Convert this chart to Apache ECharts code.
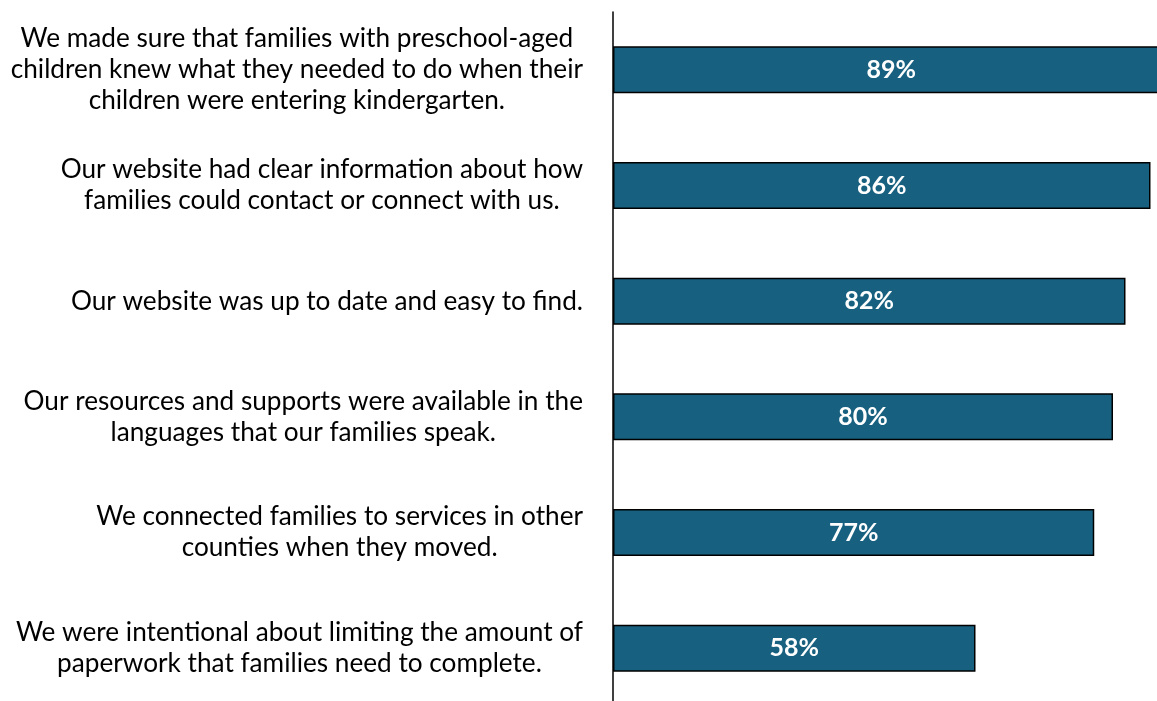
<!DOCTYPE html>
<html>
<head>
<meta charset="utf-8">
<script src="https://cdn.jsdelivr.net/npm/echarts@6/dist/echarts.min.js"></script>
<style>
  html, body { margin: 0; padding: 0; background: #fff; }
  #chart { width: 1157px; height: 701px; }
</style>
</head>
<body>
<div id="chart"></div>
<script>
const categories = [
  "We made sure that families with preschool-aged\nchildren knew what they needed to do when their\nchildren were entering kindergarten.",
  "Our website had clear information about how\nfamilies could contact or connect with us.",
  "Our website was up to date and easy to find.",
  "Our resources and supports were available in the\nlanguages that our families speak.",
  "We connected families to services in other\ncounties when they moved.",
  "We were intentional about limiting the amount of\npaperwork that families need to complete."
];
const values = [89, 86, 82, 80, 77, 58];

const chart = echarts.init(document.getElementById("chart"));
chart.setOption({
  animation: false,
  grid: { left: 613, top: 12, width: 625, height: 694, outerBoundsMode: "none" },
  xAxis: { type: "value", min: 0, max: 100, show: false },
  yAxis: {
    type: "category",
    inverse: true,
    data: categories,
    axisLine: { show: true, lineStyle: { color: "#000", width: 1.5 } },
    axisTick: { show: false },
    axisLabel: {
      margin: 30,
      align: "right",
      formatter: (v) => "{t|" + v.split("\n").join("}\n{t|") + "}",
      rich: {
        t: {
          align: "center",
          fontFamily: "Lato",
          fontSize: 26.2,
          lineHeight: 31,
          color: "#000"
        }
      }
    }
  },
  series: [
    {
      type: "bar",
      data: values,
      barWidth: 47,
      clip: false,
      itemStyle: { color: "#17607f", borderColor: "#000", borderWidth: 1.5 },
      label: {
        show: true,
        position: "inside",
        formatter: "{c}%",
        color: "#fff",
        fontFamily: "Lato",
        fontWeight: "bold",
        fontSize: 25
      }
    }
  ]
});
</script>
</body>
</html>
